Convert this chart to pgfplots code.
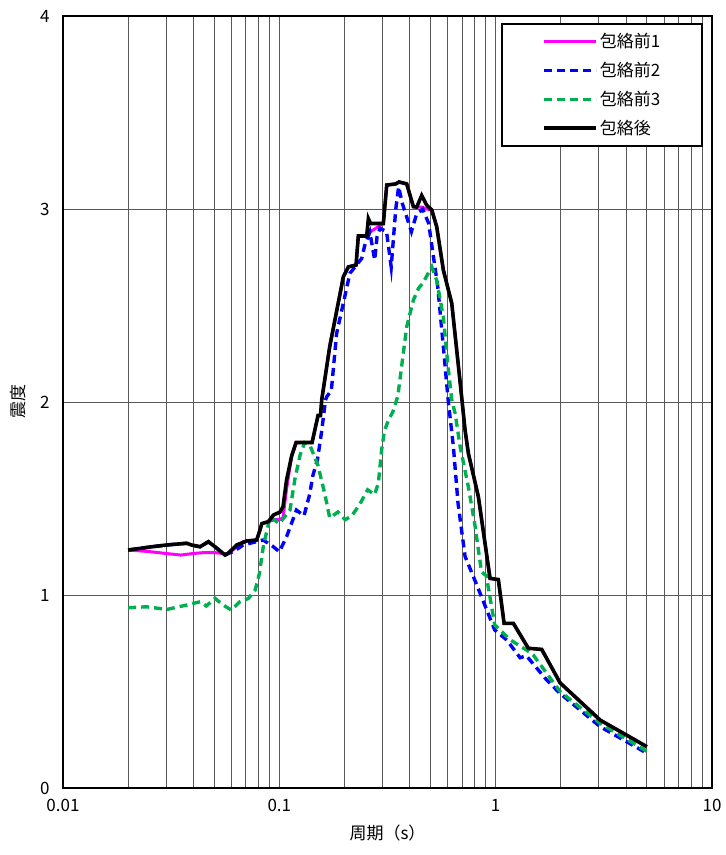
\documentclass[border=0pt]{standalone}
\usepackage{fontspec}
\setmainfont{Noto Sans CJK JP}
\usepackage{pgfplots}
\pgfplotsset{compat=1.18}

\definecolor{cmag}{RGB}{255,0,255}
\definecolor{cblue}{RGB}{0,0,255}
\definecolor{cgreen}{RGB}{0,176,80}

\newcommand{\fs}{\fontsize{17bp}{20bp}\selectfont}

\begin{document}
\begin{tikzpicture}
\begin{axis}[
  scale only axis, width=649bp, height=772bp,
  xmode=log, xmin=0.01, xmax=10, ymin=0, ymax=4,
  xtick={0.01,0.1,1,10}, xticklabels={0.01,0.1,1,10},
  minor xtick={0.02,0.03,0.04,0.05,0.06,0.07,0.08,0.09,
               0.2,0.3,0.4,0.5,0.6,0.7,0.8,0.9,
               2,3,4,5,6,7,8,9},
  ytick={0,1,2,3,4},
  xmajorgrids, xminorgrids, ymajorgrids,
  major grid style={black!65, line width=0.8bp},
  minor grid style={black!65, line width=0.8bp},
  major tick length=0pt, minor tick length=0pt,
  axis line style={line width=1.6bp},
  /pgf/number format/assume math mode=true,
  tick label style={font=\fs},
  yticklabel style={xshift=-10bp},
  xticklabel style={yshift=-8bp},
  xlabel={周期（s）}, ylabel={震度},
  label style={font=\fs},
  xlabel style={at={(axis description cs:0.5,-0.058)}, anchor=center},
  ylabel style={at={(axis description cs:-0.069,0.5)}, anchor=center},
  legend image code/.code={\draw[#1] (0bp,0bp) -- (52bp,0bp);},
  legend style={at={(1,1)}, anchor=north east, xshift=-9bp, yshift=-7bp,
    draw=black, line width=1.6bp, font=\fs, cells={anchor=west},
    inner xsep=40bp, inner ysep=3bp, row sep=0pt,
    nodes={minimum height=29bp, inner sep=2bp}},
]

% 包絡前1
\addplot[cmag, line width=3bp] coordinates {
(0.02,1.233) (0.025,1.225) (0.03,1.215) (0.035,1.207) (0.04,1.215)
(0.045,1.22) (0.05,1.22) (0.055,1.215) (0.058,1.214) (0.062,1.24)
(0.068,1.276) (0.0786,1.285) (0.0814,1.337) (0.083,1.37) (0.089,1.38)
(0.095,1.39) (0.1,1.39) (0.104,1.40) (0.108,1.55) (0.114,1.72)
(0.1195,1.79) (0.1417,1.79) (0.151,1.93) (0.155,1.93) (0.157,2.01)
(0.171,2.287) (0.1977,2.649) (0.2085,2.70) (0.2263,2.71) (0.2318,2.86)
(0.2535,2.86) (0.262,2.88) (0.3026,2.925) (0.3137,3.124) (0.345,3.13)
(0.3577,3.14) (0.388,3.13) (0.4165,3.012) (0.4318,3.01) (0.455,3.01)
(0.48,3.0) (0.5067,2.995) (0.534,2.908) (0.573,2.684) (0.6267,2.511)
(0.684,2.11) (0.722,1.855) (0.748,1.734) (0.832,1.509) (0.942,1.086)
(1.029,1.08) (1.094,0.853) (1.208,0.853) (1.416,0.724) (1.633,0.718)
(1.985,0.545) (3.04,0.352) (5.0,0.214)
};
\addlegendentry{包絡前1}

% 包絡前2
\addplot[cblue, line width=3.4bp, dash pattern=on 8bp off 5bp] coordinates {
(0.02,1.233) (0.025,1.248) (0.03,1.259) (0.0373,1.268) (0.0393,1.259)
(0.043,1.25) (0.047,1.276) (0.0504,1.25) (0.0561,1.207) (0.058,1.216)
(0.0613,1.224) (0.068,1.259) (0.0843,1.285) (0.0938,1.25) (0.1,1.224)
(0.108,1.302) (0.12,1.44) (0.13,1.41) (0.138,1.52) (0.143,1.62)
(0.15,1.70) (0.157,1.85) (0.1635,2.01) (0.1656,2.027) (0.174,2.06)
(0.184,2.355) (0.212,2.667) (0.2405,2.744) (0.248,2.81) (0.262,2.88)
(0.276,2.736) (0.283,2.857) (0.292,2.90) (0.313,2.883) (0.329,2.70)
(0.345,2.995) (0.356,3.115) (0.37,3.03) (0.408,2.883) (0.43,2.97)
(0.46,3.00) (0.49,2.926) (0.54,2.597) (0.573,2.287) (0.603,2.01)
(0.6375,1.77) (0.67,1.475) (0.722,1.20) (0.818,1.052) (0.99,0.819)
(1.125,0.767) (1.297,0.675) (1.388,0.685) (1.72,0.56) (1.985,0.49)
(3.04,0.318) (5.0,0.18)
};
\addlegendentry{包絡前2}

% 包絡前3
\addplot[cgreen, line width=3.4bp, dash pattern=on 8bp off 5bp] coordinates {
(0.02,0.934) (0.0244,0.939) (0.0302,0.925) (0.0373,0.948) (0.043,0.965)
(0.046,0.943) (0.0504,0.983) (0.055,0.948) (0.06,0.922) (0.0657,0.965)
(0.0719,0.982) (0.0774,1.026) (0.0809,1.112) (0.0843,1.25) (0.0906,1.406)
(0.1,1.37) (0.105,1.40) (0.112,1.44) (0.118,1.60) (0.1247,1.725)
(0.131,1.79) (0.138,1.78) (0.151,1.67) (0.1625,1.52) (0.171,1.40)
(0.1867,1.43) (0.2015,1.39) (0.2162,1.41) (0.2354,1.47) (0.256,1.545)
(0.2755,1.52) (0.287,1.58) (0.297,1.75) (0.306,1.85) (0.318,1.90)
(0.335,1.95) (0.353,2.03) (0.388,2.39) (0.4165,2.528) (0.44,2.589)
(0.46,2.615) (0.5067,2.70) (0.534,2.63) (0.573,2.44) (0.603,2.18)
(0.627,2.01) (0.65,1.94) (0.685,1.77) (0.748,1.56) (0.80,1.37)
(0.86,1.12) (0.905,1.10) (0.99,0.845) (1.17,0.767) (1.388,0.715)
(1.49,0.69) (1.985,0.50) (3.04,0.335) (5.0,0.19)
};
\addlegendentry{包絡前3}

% 包絡後
\addplot[black, line width=3.6bp] coordinates {
(0.02,1.233) (0.025,1.248) (0.03,1.259) (0.0373,1.268) (0.0393,1.259)
(0.043,1.25) (0.047,1.276) (0.0504,1.25) (0.0561,1.207) (0.058,1.216)
(0.0635,1.259) (0.0707,1.28) (0.0786,1.285) (0.0814,1.337) (0.083,1.37)
(0.089,1.38) (0.0938,1.414) (0.1007,1.43) (0.104,1.457) (0.108,1.596)
(0.114,1.72) (0.1195,1.79) (0.1417,1.79) (0.151,1.93) (0.155,1.93)
(0.157,2.01) (0.171,2.287) (0.1977,2.649) (0.2085,2.70) (0.2263,2.71)
(0.2318,2.86) (0.2535,2.86) (0.258,2.95) (0.264,2.925) (0.3026,2.925)
(0.3137,3.124) (0.345,3.13) (0.3577,3.14) (0.388,3.13) (0.4165,3.012)
(0.4318,3.01) (0.455,3.07) (0.48,3.02) (0.5067,2.995) (0.534,2.908)
(0.573,2.684) (0.6267,2.511) (0.684,2.11) (0.722,1.855) (0.748,1.734)
(0.832,1.509) (0.942,1.086) (1.029,1.08) (1.094,0.853) (1.208,0.853)
(1.416,0.724) (1.633,0.718) (1.985,0.545) (3.04,0.352) (5.0,0.214)
};
\addlegendentry{包絡後}

\end{axis}
\path (current axis.south west) ++(-63bp,-67bp) coordinate (bbA);
\path (current axis.north east) ++(14bp,16bp) coordinate (bbB);
\pgfresetboundingbox
\path (bbA) rectangle (bbB);
\end{tikzpicture}
\end{document}
